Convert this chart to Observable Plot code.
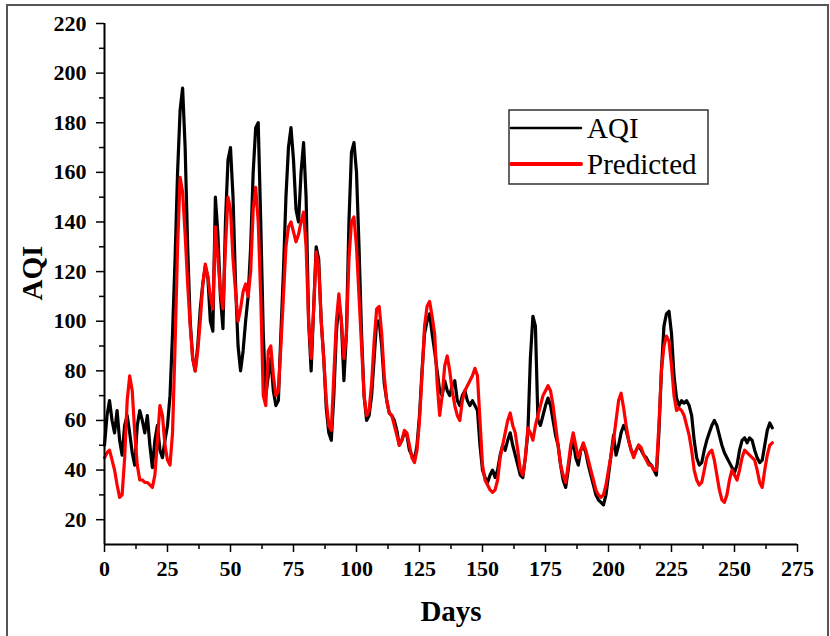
<!DOCTYPE html>
<html>
<head>
<meta charset="utf-8">
<script src="https://cdn.jsdelivr.net/npm/d3@7"></script>
<script src="https://cdn.jsdelivr.net/npm/@observablehq/plot@0.6"></script>
<style>
  html, body { margin: 0; padding: 0; background: white; }
  #chart { width: 830px; height: 636px; }
</style>
</head>
<body>
<div id="chart"></div>
<script>
// Days 0..265
const aqi = [
  50,62,68,60,55,64,52,46,58,62, 55,47,42,58,64,60,55,62,50,41,
  52,58,48,45,52,58,70,95,125,160, 185,194,170,130,100,85,80,90,105,115,
  122,118,100,96,150,135,110,97,140,165, 170,150,115,90,80,88,100,110,130,160,
  178,180,140,95,70,78,85,72,66,68, 95,120,150,170,178,165,145,140,160,172,
  150,100,80,105,130,125,100,85,65,55, 52,70,95,108,100,76,95,140,168,172,
  160,130,95,70,60,62,70,85,100,100, 90,75,68,63,62,60,56,50,52,55,
  54,48,46,44,50,62,80,95,100,103, 95,88,80,72,70,76,72,70,74,76,
  68,66,70,72,68,66,68,66,64,50, 40,37,35,38,40,37,40,46,50,48,
  52,55,50,46,42,38,37,45,55,85, 102,98,60,58,62,66,69,66,60,54,
  50,42,36,33,40,48,52,45,42,48, 50,47,42,38,34,30,28,27,26,30,
  38,46,54,46,50,55,58,56,52,48, 46,48,50,48,46,45,43,42,40,38,
  55,80,98,103,104,95,78,69,66,68, 67,68,66,62,52,45,42,43,48,52,
  55,58,60,58,54,50,47,45,43,41, 39,42,48,52,53,51,53,52,48,45,
  43,44,50,56,59,57
];
const predicted = [
  45,47,48,44,40,34,29,30,45,68, 78,72,55,42,36,36,35,35,34,33,
  38,52,66,62,50,44,42,55,90,130, 158,152,135,115,98,85,80,88,100,115,
  123,118,110,105,138,125,112,105,130,150, 145,125,112,100,105,112,115,110,120,145,
  154,140,110,70,66,88,90,78,70,72, 90,110,130,138,140,136,132,135,140,144,
  130,100,85,105,128,122,100,85,68,58, 56,78,100,111,100,85,95,125,140,142,
  130,110,90,70,62,64,75,92,105,106, 95,78,68,63,62,58,54,50,52,56,
  55,50,45,43,48,60,78,98,106,108, 102,95,75,62,70,82,86,80,72,66,
  62,60,68,72,74,76,78,81,78,60, 42,36,34,32,31,32,36,45,50,55,
  60,63,58,55,48,40,38,45,57,55, 52,58,62,66,70,72,74,72,66,58,
  50,42,38,35,42,50,55,50,45,48, 51,48,44,40,36,32,30,29,30,34,
  40,46,52,60,68,71,65,58,52,48, 45,48,50,49,46,44,42,42,40,40,
  58,80,90,94,92,82,70,64,65,64, 62,58,54,48,40,36,34,35,40,45,
  47,48,44,38,32,28,27,30,36,40, 38,36,40,45,48,47,46,45,44,40,
  35,33,40,46,50,51
];
const days = d3.range(0, aqi.length);
const seriesNames = ["AQI", "Predicted"];
const xTicks = d3.range(0, 276, 25);
const xMinor = d3.range(12.5, 276, 25);
const yTicks = d3.range(20, 221, 20);
const yMinor = d3.range(30, 221, 20);

const aqiData = days.map((d, i) => ({day: d, v: aqi[i]}));
const predData = days.map((d, i) => ({day: d, v: predicted[i]}));

const font = "Liberation Serif, Times New Roman, serif";

const chart = Plot.plot({
  width: 830,
  height: 636,
  marginLeft: 104,
  marginRight: 33,
  marginTop: 23,
  marginBottom: 92,
  style: {fontFamily: font, background: "white", color: "black", overflow: "visible"},
  x: {domain: [0, 275]},
  y: {domain: [10, 220]},
  marks: [
    Plot.line(aqiData, {x: "day", y: "v", stroke: "black", strokeWidth: 3.2}),
    Plot.line(predData, {x: "day", y: "v", stroke: "#ff0000", strokeWidth: 3.2}),
    Plot.axisY({ticks: yTicks, tickSize: 8, tickPadding: 10, fontSize: 22, fontWeight: "bold", label: null, strokeWidth: 1.5}),
    Plot.axisY({ticks: yMinor, tickSize: 5, tickFormat: () => "", label: null, strokeWidth: 1.5}),
    Plot.axisX({ticks: xTicks, tickSize: 8, tickPadding: 8, fontSize: 22, fontWeight: "bold", label: null, strokeWidth: 1.5}),
    Plot.axisX({ticks: xMinor, tickSize: 5, tickFormat: () => "", label: null, strokeWidth: 1.5}),
    Plot.ruleX([0], {strokeWidth: 2}),
    Plot.ruleY([10], {strokeWidth: 2}),
    Plot.text(["AQI"], {frameAnchor: "left", dx: -72, dy: -11, rotate: -90, fontSize: 29, fontWeight: "bold", textAnchor: "middle", lineAnchor: "middle"}),
    Plot.text(["Days"], {frameAnchor: "bottom", dy: 67, fontSize: 29, fontWeight: "bold", textAnchor: "middle", lineAnchor: "middle"})
  ]
});

document.getElementById("chart").appendChild(chart);

// Legend and outer border
const svg = d3.select(chart);
const lg = svg.append("g").attr("text-anchor", "start");
lg.append("rect").attr("x", 509).attr("y", 110).attr("width", 199).attr("height", 74)
  .attr("fill", "white").attr("stroke", "#333").attr("stroke-width", 1.5);
const colors = ["black", "#ff0000"];
const rowsY = [128, 164];
seriesNames.forEach((name, i) => {
  lg.append("line").attr("x1", 511).attr("x2", 581).attr("y1", rowsY[i]).attr("y2", rowsY[i])
    .attr("stroke", colors[i]).attr("stroke-width", i === 0 ? 2.5 : 4).attr("stroke-linecap", "round");
  lg.append("text").attr("x", 587).attr("y", rowsY[i]).attr("dy", "0.35em")
    .attr("text-anchor", "start")
    .attr("font-family", font).attr("font-size", 29).attr("fill", "black").text(name);
});
svg.append("rect").attr("x", 7).attr("y", 5).attr("width", 821).attr("height", 640)
  .attr("fill", "none").attr("stroke", "#555").attr("stroke-width", 2);
</script>
</body>
</html>
